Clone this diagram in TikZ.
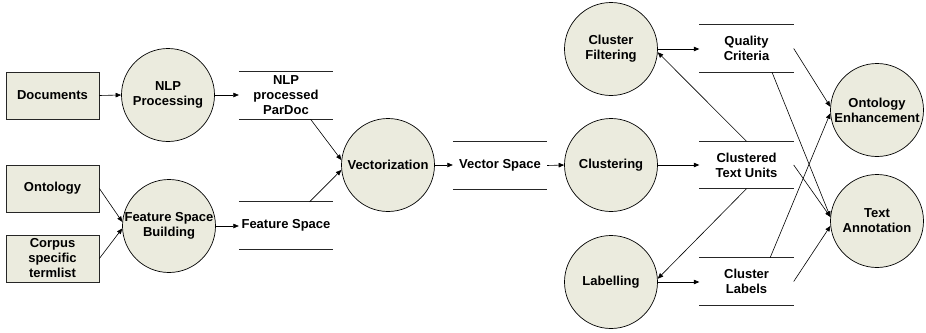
\documentclass[tikz,border=0pt]{standalone}
\usepackage{fontspec}
\setmainfont{Liberation Sans}
\usetikzlibrary{arrows.meta,calc}
\definecolor{procfill}{RGB}{235,235,222}
\begin{document}
\begin{tikzpicture}[x=1pt,y=-1pt,
  every node/.style={font=\fontsize{13}{15}\selectfont\bfseries, align=center},
  proc/.style={circle, draw=black, fill=procfill, line width=0.7pt, minimum size=93pt, inner sep=0pt},
  ent/.style={rectangle, draw=black!85, fill=procfill, line width=0.8pt, minimum width=93pt, minimum height=47pt, inner sep=0pt},
  store/.style={minimum width=94pt, minimum height=47pt, inner sep=0pt},
  storeline/.style={line width=0.7pt, draw=black!85},
  flow/.style={-{Triangle[length=5.5pt,width=4.5pt]}, line width=0.6pt},
]
\useasboundingbox (0,0) rectangle (926,332);

% external entities
\node[ent] (docs)   at (52.5,95.5)  {Documents};
\node[ent] (onto)   at (52.5,188.5) {Ontology};
\node[ent] (corpus) at (52.5,258.5) {Corpus\\specific\\termlist};

% processes
\node[proc] (nlp)   at (168,95)  {NLP\\Processing};
\node[proc] (fsb)   at (169,226) {Feature Space\\Building};
\node[proc] (vec)   at (388,165) {Vectorization};
\node[proc] (clus)  at (611,165) {Clustering};
\node[proc] (cfilt) at (611,49)  {Cluster\\Filtering};
\node[proc] (label) at (611,282) {Labelling};
\node[proc] (onten) at (877,110) {Ontology\\Enhancement};
\node[proc] (annot) at (877,221) {Text\\Annotation};

% data stores
\node[store] (pardoc) at (286,95.5)    {NLP\\processed\\ParDoc};
\node[store] (featsp) at (286,225.5)   {Feature Space};
\node[store] (vecsp)  at (500,165.5)   {Vector Space};
\node[store] (qual)   at (746.5,48.5)  {Quality\\Criteria};
\node[store] (ctu)    at (746.5,165)   {Clustered\\Text Units};
\node[store] (clab)   at (746.5,281.5) {Cluster\\Labels};
\foreach \s in {pardoc,featsp,vecsp,qual,ctu,clab}
  \draw[storeline] (\s.north west) -- (\s.north east) (\s.south west) -- (\s.south east);

% data flows
\draw[flow] (docs.east) -- (nlp.west);
\draw[flow] (nlp.east) -- (nlp.east -| pardoc.west);
\draw[flow] ($(pardoc.south west)!0.76!(pardoc.south east)$) -- (vec.174);
\draw[flow] ($(featsp.north west)!0.75!(featsp.north east)$) -- (vec.186);
\draw[flow] (onto.east) -- (fsb.175);
\draw[flow] (corpus.east) -- (fsb.183);
\draw[flow] (fsb.east) -- (fsb.east -| featsp.west);
\draw[flow] (vec.east) -- (vec.east -| vecsp.west);
\draw[flow] (vecsp.east) -- (clus.west);
\draw[flow] (clus.east) -- (clus.east -| ctu.west);
\draw[flow] (cfilt.east) -- (cfilt.east -| qual.west);
\draw[flow] (ctu.north) -- (cfilt.-4);
\draw[flow] (ctu.south) -- (label.4);
\draw[flow] (label.east) -- (label.east -| clab.west);
\draw[flow] (qual.east) -- (onten.176);
\draw[flow] ($(qual.south west)!0.77!(qual.south east)$) -- (annot.175);
\draw[flow] (ctu.east) -- (annot.175);
\draw[flow] ($(clab.north west)!0.75!(clab.north east)$) -- (onten.184);
\draw[flow] (clab.east) -- (annot.186);
\end{tikzpicture}
\end{document}
